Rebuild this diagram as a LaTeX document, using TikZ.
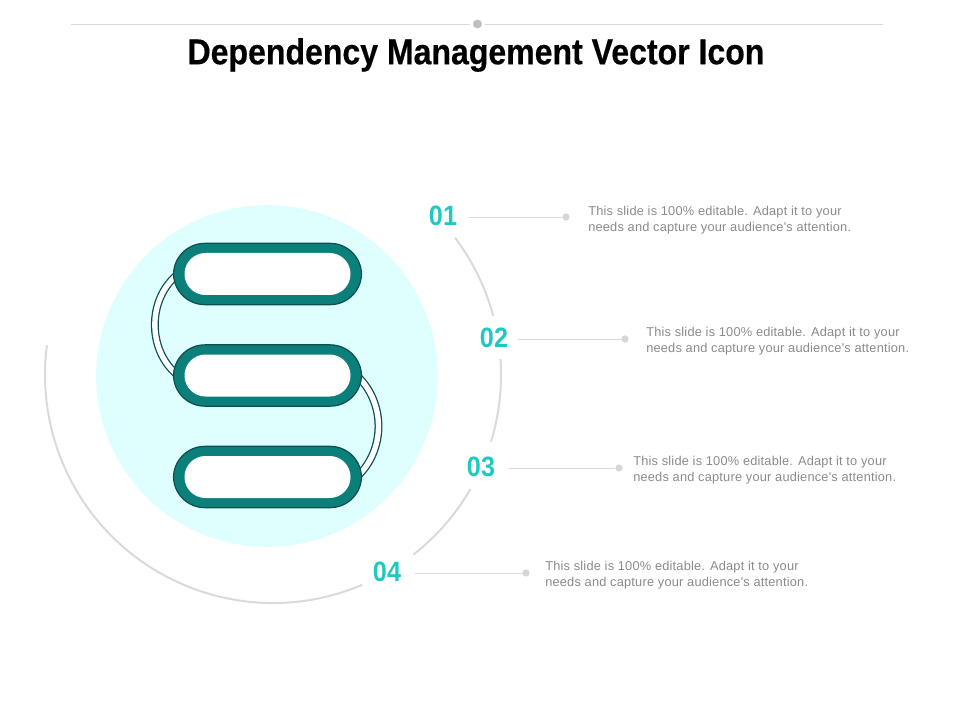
\documentclass[tikz,border=0pt]{standalone}
\usepackage{fontspec}
\setmainfont{Liberation Sans}
\newfontfamily\titlefont[FakeStretch=0.89,FakeBold=0.4]{Liberation Sans Bold}
\newfontfamily\numfont[FakeStretch=0.9]{Liberation Sans Bold}
\newfontfamily\blurbfont[LetterSpace=1.6]{Liberation Sans}
\usetikzlibrary{backgrounds}
\definecolor{tealdark}{HTML}{0B4F4F}
\definecolor{tealmid}{HTML}{0B7F7A}
\definecolor{tealnum}{HTML}{1FC9C3}
\definecolor{circlefill}{HTML}{DFFFFF}
\definecolor{rulegray}{HTML}{DADADA}
\definecolor{dotgray}{HTML}{D6D6D6}
\definecolor{textgray}{HTML}{8A8A8A}
\tikzset{
    pill/.style={draw=tealdark, line width=0.9pt, fill=tealmid, rectangle, rounded corners=23.5pt, minimum width=141pt, minimum height=46pt, inner sep=0pt},
    pillin/.style={fill=white, rectangle, rounded corners=15.7pt, minimum width=124.5pt, minimum height=31.5pt, inner sep=0pt},
    link/.style={draw=tealdark, line width=0.95pt, double=white, double distance=4pt},
    ring/.style={draw=rulegray, line width=1.5pt},
    lead/.style={draw=rulegray, line width=0.6pt},
    num/.style={font=\numfont\fontsize{21}{21}\selectfont, text=tealnum, inner xsep=9pt, inner ysep=0pt, text height=13pt, text depth=0pt},
    enddot/.style={circle, fill=dotgray, minimum size=5.5pt, inner sep=0pt},
    blurb/.style={font=\blurbfont\fontsize{9.6}{12}\selectfont, text=textgray, align=left, anchor=west, inner sep=0pt},
}
\begin{document}
\begin{tikzpicture}[x=0.75pt,y=-0.75pt]
    \useasboundingbox (0,0) rectangle (960,720);
    % Top rule and title
    \node[circle, fill=gray!50, minimum size=6.6pt, inner sep=0pt] (topdot) at (477.5,24) {};
    \coordinate (ruleL) at (71,24);
    \coordinate (ruleR) at (883,24);
    \draw[lead] (ruleL) -- ([xshift=-1.9pt]topdot.west);
    \draw[lead] ([xshift=1.9pt]topdot.east) -- (ruleR);
    \node[font=\titlefont\fontsize{27}{27}\selectfont, inner sep=0pt] (title) at (476,55) {Dependency Management Vector Icon};

    % Pills
    \node[pill] (pillA) at (267.5,274) {};
    \node[pillin] (pillAin) at (pillA) {};
    \node[pill] (pillB) at (267.5,375.5) {};
    \node[pillin] (pillBin) at (pillB) {};
    \node[pill] (pillC) at (267.5,477) {};
    \node[pillin] (pillCin) at (pillC) {};

    % Circle and links go behind the pills
    \begin{scope}[on background layer]
        \fill[circlefill] (267,376) circle[radius=128.2pt];
        \draw[link] ([xshift=4pt]pillA.west) to[bend right=52] ([xshift=4pt]pillB.west);
        \draw[link] ([xshift=-4pt]pillB.east) to[bend left=47] ([xshift=-4pt]pillC.east);
    \end{scope}

    % Ring segments
    \coordinate (ringc) at (273,375);
    \draw[ring] ([shift={(37:171pt)}]ringc) arc[start angle=37, end angle=15, radius=171pt];
    \draw[ring] ([shift={(4:171pt)}]ringc) arc[start angle=4, end angle=-17, radius=171pt];
    \draw[ring] ([shift={(-30:171pt)}]ringc) arc[start angle=-30, end angle=-52, radius=171pt];
    \draw[ring] ([shift={(-67:171pt)}]ringc) arc[start angle=-67, end angle=-187.5, radius=171pt];

    % Numbers, leaders and text
    \node[num] (numA) at (443,217) {01};
    \node[enddot] (dotA) at (566,217) {};
    \draw[lead] (numA) -- (dotA);
    \node[blurb] (textA) at (588,220) {This slide is 100\% editable. Adapt it to your\\needs and capture your audience's attention.};

    \node[num, inner xsep=7.5pt] (numB) at (494,339) {02};
    \node[enddot] (dotB) at (625,339) {};
    \draw[lead] (numB) -- (dotB);
    \node[blurb] (textB) at (646,341) {This slide is 100\% editable. Adapt it to your\\needs and capture your audience's attention.};

    \node[num, inner xsep=10.5pt] (numC) at (481,468) {03};
    \node[enddot] (dotC) at (619,468) {};
    \draw[lead] (numC) -- (dotC);
    \node[blurb] (textC) at (633,470) {This slide is 100\% editable. Adapt it to your\\needs and capture your audience's attention.};

    \node[num, inner xsep=10.5pt] (numD) at (387,573) {04};
    \node[enddot] (dotD) at (526,573) {};
    \draw[lead] (numD) -- (dotD);
    \node[blurb] (textD) at (545,575) {This slide is 100\% editable. Adapt it to your\\needs and capture your audience's attention.};
\end{tikzpicture}
\end{document}
